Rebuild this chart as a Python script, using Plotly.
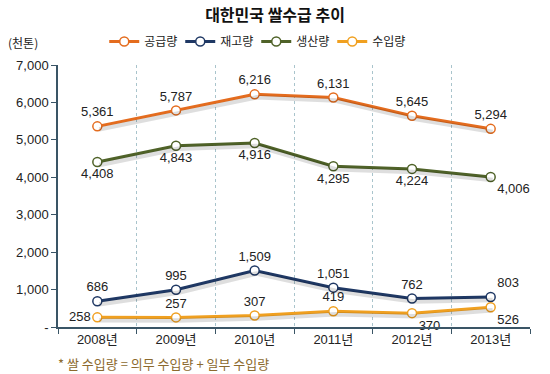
import plotly.graph_objects as go

years = ["2008년", "2009년", "2010년", "2011년", "2012년", "2013년"]
supply = [5361, 5787, 6216, 6131, 5645, 5294]      # 공급량
stock = [686, 995, 1509, 1051, 762, 803]           # 재고량
production = [4408, 4843, 4916, 4295, 4224, 4006]  # 생산량
imports = [258, 257, 307, 419, 370, 526]           # 수입량

ytick_vals = [0, 1000, 2000, 3000, 4000, 5000, 6000, 7000]
ytick_text = ["-", "1,000", "2,000", "3,000", "4,000", "5,000", "6,000", "7,000"]

FONT = "Noto Sans CJK KR"
NUMFONT = "Liberation Sans, Noto Sans CJK KR"
xs = list(range(len(years)))

series = [
    ("공급량", supply, "#E46C1E", ["top center"] * 6),
    ("재고량", stock, "#1F3864", ["top center"] * 5 + ["top right"]),
    ("생산량", production, "#4F6228", ["bottom center"] * 5 + ["bottom right"]),
    ("수입량", imports, "#F0A020",
     ["middle left", "top center", "top center", "top center", "bottom right", "bottom right"]),
]

fig = go.Figure()
# soft drop shadows via a slightly offset overlay axis
for name, vals, color, pos in series:
    fig.add_trace(go.Scatter(
        x=xs, y=vals, mode="lines", xaxis="x2", yaxis="y2", showlegend=False,
        hoverinfo="skip", line=dict(color="rgba(0,0,0,0.13)", width=4.5),
    ))
for name, vals, color, pos in series:
    fig.add_trace(go.Scatter(
        x=xs, y=vals, name=name, mode="lines+markers+text",
        line=dict(color=color, width=3),
        marker=dict(size=9, color="white", line=dict(color=color, width=1.5)),
        text=[f"{v:,}" for v in vals], textposition=pos,
        textfont=dict(family=NUMFONT, size=13, color="#222222"),
        cliponaxis=False,
    ))

axis_color = "#3A5566"
fig.update_layout(
    width=550, height=374,
    margin=dict(l=58, r=20, t=65, b=47),
    paper_bgcolor="white", plot_bgcolor="white",
    font=dict(family=FONT, size=12, color="#222222"),
    title=dict(text="<b>대한민국 쌀수급 추이</b>", x=0.5, xanchor="center", y=0.96, yanchor="middle",
               font=dict(family=FONT, size=16, color="#111111")),
    showlegend=True,
    legend=dict(orientation="h", x=0.42, xanchor="center", y=1.09, yanchor="middle",
                font=dict(family=FONT, size=12), itemwidth=30, tracegroupgap=0,
                entrywidth=31, entrywidthmode="pixels",
                bgcolor="rgba(0,0,0,0)"),
    xaxis=dict(range=[-0.5, 5.5], tickvals=xs, ticktext=years, ticks="",
               showgrid=False, showline=True, linecolor=axis_color, linewidth=1.5,
               zeroline=False, tickfont=dict(family=NUMFONT, size=13),
               minor=dict(tick0=0.5, dtick=1, showgrid=True, griddash="dot",
                          gridcolor="#A9C4CC", gridwidth=1, ticks="outside",
                          ticklen=5, tickcolor=axis_color)),
    yaxis=dict(range=[0, 7000], tickvals=ytick_vals, ticktext=ytick_text,
               ticks="outside", ticklen=5, tickcolor=axis_color,
               showgrid=False, showline=True, linecolor=axis_color, linewidth=1.5,
               zeroline=False, tickfont=dict(family=NUMFONT, size=13)),
    xaxis2=dict(range=[-0.525, 5.475], overlaying="x", visible=False),
    yaxis2=dict(range=[80, 7080], overlaying="y", visible=False),
    annotations=[
        dict(text="(천톤)", xref="paper", yref="paper", x=-0.11, y=1.085,
             xanchor="left", yanchor="middle", showarrow=False,
             font=dict(family=FONT, size=12, color="#222222")),
        dict(text="* 쌀 수입량 = 의무 수입량 + 일부 수입량", xref="paper", yref="paper",
             x=-0.005, y=-0.14, xanchor="left", yanchor="middle", showarrow=False,
             font=dict(family=FONT, size=13, color="#8C6A2E")),
    ],
)

fig.write_html("out.html", post_script="document.body.style.margin='0';",
               config={"displayModeBar": False})
